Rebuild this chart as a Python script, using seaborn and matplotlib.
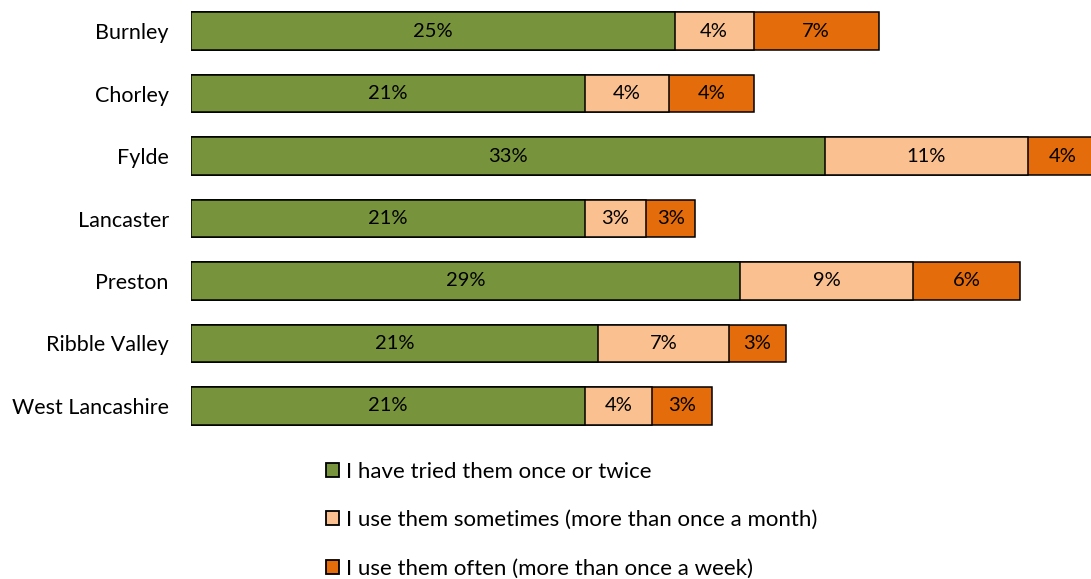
import matplotlib
matplotlib.use("Agg")
import matplotlib.pyplot as plt
from matplotlib.patches import Patch
import numpy as np
import pandas as pd
import seaborn as sns

# Survey shares (%) per district
districts = ["Burnley", "Chorley", "Fylde", "Lancaster", "Preston",
             "Ribble Valley", "West Lancashire"]
tried = [25.2, 20.51, 33.0, 20.51, 28.6, 21.2, 20.51]
sometimes = [4.1, 4.4, 10.6, 3.2, 9.0, 6.8, 3.51]
often = [6.51, 4.4, 3.6, 2.55, 5.6, 3.0, 3.1]

series_names = [
    "I have tried them once or twice",
    "I use them sometimes (more than once a month)",
    "I use them often (more than once a week)",
]
colors = ["#77933C", "#FAC090", "#E46C0A"]

df = pd.DataFrame({"district": districts, "tried": tried,
                   "sometimes": sometimes, "often": often})
df["cum1"] = df["tried"]
df["cum2"] = df["tried"] + df["sometimes"]
df["cum3"] = df["cum2"] + df["often"]

sns.set_theme(style="white")
plt.rcParams["font.family"] = ["Lato", "DejaVu Sans"]

W, H = 1091, 579
fig = plt.figure(figsize=(W / 100, H / 100), dpi=100)
ax = fig.add_axes([191 / W, 1 - 437 / H, 900 / W, 437 / H])

# Stacked bars: draw the running totals from largest to smallest
for col, color in zip(["cum3", "cum2", "cum1"], colors[::-1]):
    sns.barplot(data=df, x=col, y="district", orient="h", color=color,
                saturation=1, width=0.6, edgecolor="black", linewidth=1.1,
                ax=ax, errorbar=None)

# Value labels centred in each segment
for i, row in df.iterrows():
    starts = [0, row["cum1"], row["cum2"]]
    vals = [row["tried"], row["sometimes"], row["often"]]
    for s, v in zip(starts, vals):
        ax.text(s + v / 2, i, f"{v:.0f}%", ha="center", va="center",
                fontsize=14.5, color="black", clip_on=False)

ax.set_xlim(0, 900 / 19.2)
ax.set_ylim(6.5, -0.5)
ax.set_xlabel("")
ax.set_ylabel("")
ax.set_xticks([])
ax.tick_params(axis="y", length=0, pad=16, labelsize=15.5, labelcolor="black")
for sp in ax.spines.values():
    sp.set_visible(False)

handles = [Patch(facecolor=c, edgecolor="black", linewidth=1.3) for c in colors]
fig.legend(handles, series_names, loc="upper left",
           bbox_to_anchor=(326 / W, 1 - 462 / H), frameon=False,
           fontsize=16, handlelength=0.6, handleheight=0.6,
           handletextpad=0.3, labelspacing=1.27, borderaxespad=0,
           borderpad=0, labelcolor="black")

fig.savefig("out.png", dpi=100)
